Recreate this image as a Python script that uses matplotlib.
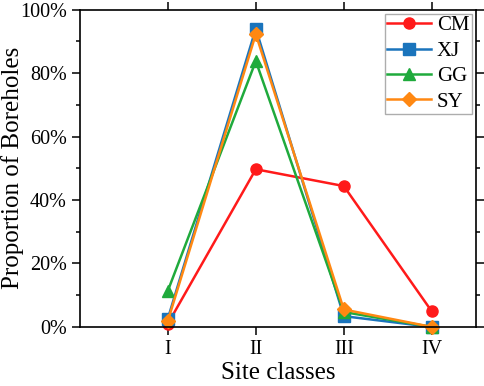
import numpy as np
import matplotlib.pyplot as plt
from matplotlib.ticker import MultipleLocator, FuncFormatter

plt.rcParams['font.family'] = ['Liberation Serif', 'DejaVu Serif']

classes = ["I", "II", "III", "IV"]
cm = [1.0, 49.7, 44.4, 4.9]
xj = [2.6, 94.0, 3.4, 0.0]
gg = [11.4, 83.8, 4.7, 0.0]
sy = [1.9, 92.3, 5.5, 0.0]

series = [
    ("CM", cm, "#FF1A1A", "o"),
    ("XJ", xj, "#1A74BC", "s"),
    ("GG", gg, "#1FAA3C", "^"),
    ("SY", sy, "#FF8812", "D"),
]

x = np.arange(1, len(classes) + 1)

fig = plt.figure(figsize=(4.84, 3.86), dpi=100)
ax = fig.add_axes([0.165, 0.153, 0.818, 0.822])

for name, vals, col, mk in series:
    ms = 7 if mk == "D" else 8
    ax.plot(x, vals, color=col, marker=mk, lw=1.8, ms=ms, label=name, clip_on=False)

ax.set_xlim(0, 4.5)
ax.set_ylim(0, 100)
ax.set_xticks(x)
ax.set_xticklabels(classes)
ax.yaxis.set_major_locator(MultipleLocator(20))
ax.yaxis.set_minor_locator(MultipleLocator(10))
ax.yaxis.set_major_formatter(FuncFormatter(lambda v, _: f"{v:.0f}%"))

ax.tick_params(which="both", direction="out", top=True, right=True, labelsize=14.5, width=1.1)
ax.tick_params(which="major", length=6)
ax.tick_params(which="minor", length=3)
for sp in ax.spines.values():
    sp.set_linewidth(1.2)

ax.set_xlabel("Site classes", fontsize=18, labelpad=2)
ax.set_ylabel("Proportion of Boreholes", fontsize=18)
ax.yaxis.set_label_coords(-0.14, 0.5)

leg = ax.legend(loc="upper right", fontsize=15, fancybox=False, edgecolor="#999999",
                handlelength=2.1, handletextpad=0.3, borderpad=0.1, labelspacing=0.28,
                borderaxespad=0.2)
leg.get_frame().set_linewidth(1.0)

fig.savefig("out.png", dpi=100)
